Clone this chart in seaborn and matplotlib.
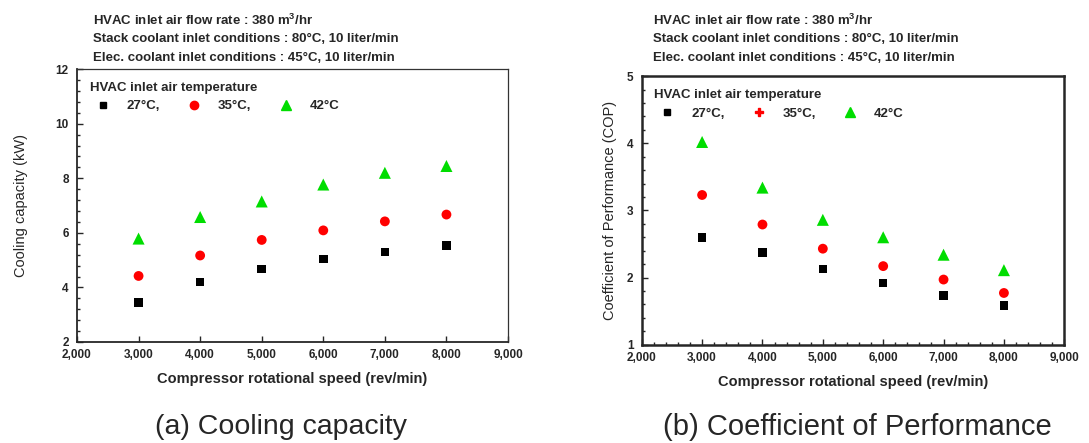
import matplotlib
matplotlib.use('Agg')
import matplotlib.pyplot as plt
import seaborn as sns
import pandas as pd
from matplotlib.lines import Line2D
from matplotlib.ticker import MultipleLocator, FuncFormatter

# Data
speed = [3000, 4000, 5000, 6000, 7000, 8000]
temps = ["27°C,", "35°C,", "42°C"]

cap_27 = [3.45, 4.20, 4.67, 5.04, 5.29, 5.54]
cap_35 = [4.42, 5.17, 5.74, 6.09, 6.42, 6.67]
cap_42 = [5.79, 6.58, 7.15, 7.77, 8.20, 8.45]

cop_27 = [2.60, 2.37, 2.13, 1.92, 1.73, 1.58]
cop_35 = [3.23, 2.79, 2.43, 2.17, 1.97, 1.77]
cop_42 = [4.02, 3.34, 2.86, 2.60, 2.34, 2.11]

conditions = [
    "HVAC inlet air flow rate : 380 m$^3$/hr",
    "Stack coolant inlet conditions : 80°C, 10 liter/min",
    "Elec. coolant inlet conditions : 45°C, 10 liter/min",
]


def make_frame(a, b, c):
    rows = []
    for t, vals in zip(temps, [a, b, c]):
        for s, v in zip(speed, vals):
            rows.append({"speed": s, "value": v, "temp": t})
    return pd.DataFrame(rows)


sns.set_style("ticks")
plt.rcParams['font.family'] = ['Liberation Sans', 'DejaVu Sans']
plt.rcParams['mathtext.fontset'] = 'custom'
plt.rcParams['mathtext.rm'] = 'Liberation Sans:bold'

palette = {"27°C,": "black", "35°C,": "#ff0000", "42°C": "#00dd00"}
markers = {"27°C,": "s", "35°C,": "o", "42°C": "^"}
sizes = {"27°C,": 38, "35°C,": 50, "42°C": 75}

fig = plt.figure(figsize=(10.89, 4.43), dpi=100)
ax1 = fig.add_axes([0.0707, 0.228, 0.3958, 0.616])
ax2 = fig.add_axes([0.5893, 0.222, 0.388, 0.606])


def draw(ax, df, ylim, ymajor, yminor, ylabel, lw, xminor, leg_markers, ypad):
    sns.scatterplot(data=df, x="speed", y="value", hue="temp", style="temp",
                    palette=palette, markers=markers, size="temp", sizes=sizes,
                    edgecolor="none", ax=ax, legend=False)
    ax.set_xlim(2000, 9000)
    ax.set_ylim(*ylim)
    ax.xaxis.set_major_locator(MultipleLocator(1000))
    if xminor:
        ax.xaxis.set_minor_locator(MultipleLocator(200))
    ax.yaxis.set_major_locator(MultipleLocator(ymajor))
    ax.yaxis.set_minor_locator(MultipleLocator(yminor))
    ax.xaxis.set_major_formatter(FuncFormatter(lambda v, p: f"{int(v):,}"))
    ax.tick_params(which="both", direction="in", top=False, right=False,
                   labelsize=8.5, width=1)
    ax.tick_params(axis="x", pad=5)
    ax.tick_params(axis="y", pad=6)
    ax.tick_params(which="major", length=4)
    ax.tick_params(which="minor", length=2)
    for lab in ax.get_xticklabels() + ax.get_yticklabels():
        lab.set_fontweight("bold")
    for sp in ax.spines.values():
        sp.set_linewidth(lw)
        sp.set_visible(True)
    ax.set_xlabel("Compressor rotational speed (rev/min)", fontsize=10.5,
                  fontweight="bold", labelpad=8)
    ax.set_ylabel(ylabel, fontsize=10.5, labelpad=ypad)
    handles = [Line2D([], [], linestyle="none", marker=m, color=palette[t],
                      markersize=ms) for t, m, ms in zip(temps, leg_markers, [5, 6, 7])]
    leg = ax.legend(handles, temps, title="HVAC inlet air temperature", ncol=3,
                    loc="upper left", frameon=False, fontsize=9.5,
                    title_fontsize=9.5, alignment="left", handlelength=2.0,
                    handletextpad=0.8, columnspacing=1.6, borderaxespad=0.55)
    leg.get_title().set_fontweight("bold")
    for txt in leg.get_texts():
        txt.set_fontweight("bold")


draw(ax1, make_frame(cap_27, cap_35, cap_42), (2, 12), 2, 0.4,
     "Cooling capacity (kW)", 1.3, False, ["s", "o", "^"], 20)
draw(ax2, make_frame(cop_27, cop_35, cop_42), (1, 5), 1, 0.2,
     "Coefficient of Performance (COP)", 1.8, True, ["s", "P", "^"], 7)
for side in ["top", "right"]:
    ax1.spines[side].set_linewidth(0.9)
    ax1.spines[side].set_color("#333333")

for i, line in enumerate(conditions):
    fig.text(0.085, 0.955 - i * 0.043, line, fontsize=9.5, fontweight="bold",
             va="center")
    fig.text(0.600, 0.955 - i * 0.043, line, fontsize=9.5, fontweight="bold",
             va="center")

fig.text(0.258, 0.036, "(a) Cooling capacity", fontsize=20.5, ha="center",
         va="center")
fig.text(0.787, 0.036, "(b) Coefficient of Performance", fontsize=21,
         ha="center", va="center")

fig.savefig("out.png", dpi=100)
